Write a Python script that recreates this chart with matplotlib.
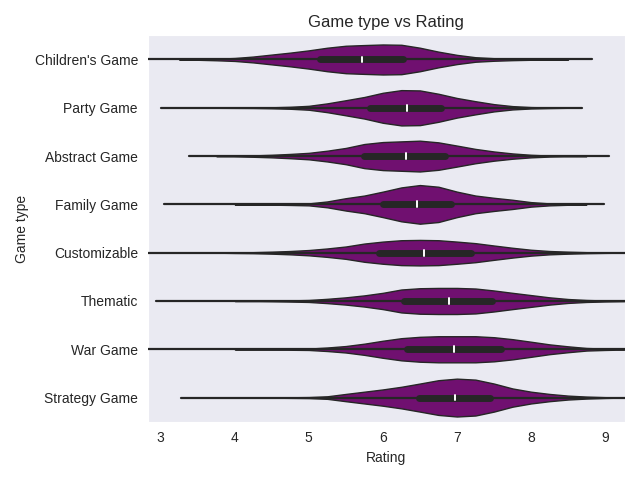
import numpy as np
import matplotlib
matplotlib.use("Agg")
import matplotlib.pyplot as plt
import seaborn as sns

sns.set_style("dark")
plt.rcParams['font.family'] = ['Liberation Sans', 'DejaVu Sans']

categories = ["Children's Game", "Party Game", "Abstract Game", "Family Game",
              "Customizable", "Thematic", "War Game", "Strategy Game"]

# box stats (whisker low, q1, median, q3, whisker high)
whisk_lo = [2.5, 3.0, 3.38, 3.05, 2.5, 2.93, 2.5, 3.28]
q1 = [5.15, 5.83, 5.74, 6.0, 5.95, 6.28, 6.33, 6.49]
median = [5.72, 6.32, 6.31, 6.46, 6.55, 6.89, 6.96, 6.97]
q3 = [6.27, 6.79, 6.84, 6.92, 7.19, 7.48, 7.59, 7.45]
whisk_hi = [8.82, 8.69, 9.06, 8.99, 9.6, 9.6, 9.6, 9.6]

# violin density profile (relative) on a rating grid
rating = np.arange(3.0, 9.51, 0.25)
density = [
    # 3  3.25 3.5  3.75 4    4.25 4.5  4.75 5    5.25 5.5  5.75 6    6.25 6.5  6.75 7    7.25 7.5  7.75 8    8.25 8.5  8.75 9   9.25 9.5
    [0, 0, 0.3, 0.8, 1.5, 3.0, 5.0, 7.0, 9.3, 12.0, 14.0, 14.7, 15.3, 15.0, 12.0, 8.0, 4.7, 2.3, 1.3, 0.7, 0.3, 0.1, 0, 0, 0, 0, 0],
    [0, 0, 0, 0, 0.1, 0.2, 0.5, 1.0, 2.0, 4.5, 7.7, 11.0, 15.3, 18.0, 17.7, 14.3, 10.0, 6.7, 3.7, 1.7, 0.7, 0.3, 0, 0, 0, 0, 0],
    [0, 0, 0, 0, 0.3, 0.7, 1.3, 2.2, 3.3, 5.5, 8.3, 12.3, 14.3, 15.0, 15.7, 14.0, 10.7, 7.3, 4.7, 2.7, 1.3, 0.5, 0.2, 0, 0, 0, 0],
    [0, 0, 0, 0, 0, 0.1, 0.3, 0.6, 1.0, 3.0, 6.3, 9.0, 13.0, 17.3, 19.7, 18.0, 13.0, 9.0, 6.7, 4.7, 2.3, 1.0, 0.4, 0, 0, 0, 0],
    [0, 0, 0, 0, 0.3, 0.5, 1.0, 1.7, 2.7, 4.3, 6.3, 9.3, 11.3, 12.7, 13.0, 12.7, 11.3, 9.7, 7.3, 5.0, 3.0, 1.7, 1.0, 0.5, 0.2, 0, 0],
    [0, 0, 0, 0, 0, 0.1, 0.3, 0.6, 1.0, 2.2, 3.7, 5.7, 8.3, 11.7, 13.0, 13.3, 13.3, 12.7, 10.7, 8.3, 6.0, 3.7, 2.0, 1.0, 0.5, 0.2, 0],
    [0, 0, 0, 0, 0, 0.1, 0.3, 0.5, 0.7, 1.8, 3.3, 5.7, 8.7, 11.3, 12.7, 13.3, 13.3, 13.3, 12.3, 10.3, 7.7, 5.0, 3.0, 1.3, 0.7, 0.3, 0],
    [0, 0, 0, 0, 0, 0, 0.1, 0.3, 0.5, 1.3, 3.7, 6.0, 8.3, 11.0, 14.3, 17.7, 19.3, 18.3, 14.3, 9.3, 6.0, 3.7, 2.0, 1.0, 0.4, 0, 0],
]

fill_color = "#701070"
line_color = "#262626"
dmax = max(max(d) for d in density)

fig, ax = plt.subplots(figsize=(6.4, 4.8), dpi=100)

for i, cat in enumerate(categories):
    d = np.array(density[i])
    nz = np.nonzero(d)[0]
    lo, hi = max(nz[0] - 1, 0), min(nz[-1] + 2, len(d))
    x = rating[lo:hi]
    hw = d[lo:hi] / dmax * 0.4
    ax.fill_between(x, i - hw, i + hw, facecolor=fill_color,
                    edgecolor=line_color, linewidth=1.0, zorder=2)
    ax.plot([whisk_lo[i], whisk_hi[i]], [i, i], color=line_color,
            linewidth=1.6, zorder=3)
    ax.plot([q1[i], q3[i]], [i, i], color=line_color, linewidth=5,
            solid_capstyle='round', zorder=4)
    ax.plot([median[i], median[i]], [i - 0.06, i + 0.06], color="white",
            linewidth=1.4, zorder=5)

ax.set_yticks(range(len(categories)))
ax.set_yticklabels(categories)
ax.set_ylim(len(categories) - 0.5, -0.5)
ax.set_xlim(2.824, 9.27)
ax.set_xticks(range(3, 10))
ax.set_xlabel("Rating")
ax.set_ylabel("Game type")
ax.set_title("Game type vs Rating")

fig.tight_layout()
fig.savefig("out.png")
